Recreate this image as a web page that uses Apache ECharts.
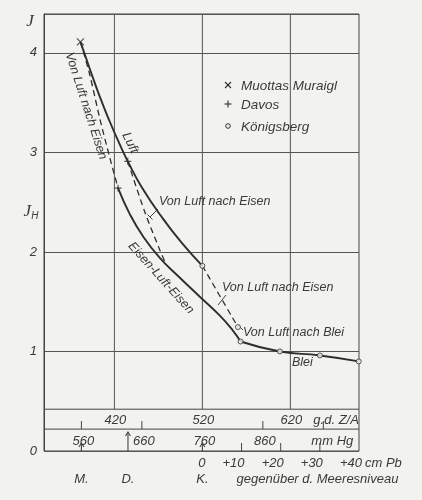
<!DOCTYPE html>
<html><head><meta charset="utf-8">
<script src="https://cdn.jsdelivr.net/npm/echarts@6/dist/echarts.min.js"></script>
<style>html,body{margin:0;padding:0;background:#f2f2ef}#c{width:422px;height:500px}</style>
</head><body><div id="c"></div>
<script>
// ---- data (x in g.d. Z/A units, y = J_H) ----
const luftX  = [381.4, 392.0, 403.4, 414.7, 426.1, 435.2, 451.1, 473.9, 496.6, 520.0];
const luftY  = [4.11, 3.84, 3.56, 3.31, 3.08, 2.91, 2.65, 2.35, 2.09, 1.86];
const eisenX = [424.2, 437.5, 452.3, 471.6, 494.4, 517.1, 539.9, 554.7, 563.4];
const eisenY = [2.64, 2.38, 2.16, 1.94, 1.74, 1.55, 1.36, 1.21, 1.10];
const bleiX  = [563.4, 608.1, 653.6, 697.7];
const bleiY  = [1.10, 1.00, 0.96, 0.90];
const dash1X = [381.4, 392.0, 403.4, 414.7, 424.2];
const dash1Y = [4.11, 3.78, 3.34, 2.95, 2.64];
const dash2X = [435.2, 454.6, 471.6, 478.4];
const dash2Y = [2.91, 2.40, 2.02, 1.88];
const dash3X = [520.0, 560.4];
const dash3Y = [1.86, 1.245];
const muottasX = [381.4];
const muottasY = [4.11];
const davosX = [435.2, 424.2];
const davosY = [2.91, 2.64];
const koenigsbergX = [520.0, 560.4, 563.4, 608.1, 653.6, 697.7];
const koenigsbergY = [1.86, 1.245, 1.10, 1.00, 0.96, 0.90];

const gTicks = [420, 520, 620];
const mmHgTicks = [560, 660, 760, 860, 960];
const mmHgLabels = ['560', '660', '760', '860', ''];
const pbTicks = [0, 10, 20, 30, 40];
const pbLabels = ['0', '+10', '+20', '+30', '+40'];
const stationNames = ['M.', 'D.', 'K.'];
const stationMmHg = [560, 637, 760];
const legendNames = ['Muottas Muraigl', 'Davos', 'Königsberg'];

// axis relations between the three scales
const mmToG = mm => 520 + (mm - 760) * 0.6875;
const pbToG = cm => 520 + cm * 4.45;

const zip = (a, b) => a.map((v, i) => [v, b[i]]);
const INK = '#2e2e2e';
const BG = '#f2f2ef';
const FONT = 'italic 13px "Liberation Sans", Arial, sans-serif';
const FONT_S = 'italic 12.5px "Liberation Sans", Arial, sans-serif';
const STRIP1 = 0.42, STRIP2 = 0.22, YMAX = 4.39;

const chart = echarts.init(document.getElementById('c'));
const lineSer = (name, d, w, dashed) => ({
  type: 'line', name, data: d, symbol: 'none', smooth: dashed ? 0.3 : 0.5,
  lineStyle: { color: INK, width: w, type: dashed ? [6, 4] : 'solid' },
  z: 3, silent: true
});
chart.setOption({
  animation: false,
  backgroundColor: BG,
  grid: { left: 44, top: 14, width: 315, height: 437, show: true, borderColor: '#444', borderWidth: 1, backgroundColor: 'transparent' },
  xAxis: { type: 'value', min: 340, max: 698, show: false },
  yAxis: {
    type: 'value', min: 0, max: YMAX, interval: 1,
    axisLine: { show: true, lineStyle: { color: '#444' } },
    axisTick: { show: false },
    splitLine: { show: true, lineStyle: { color: '#555', width: 1 } },
    axisLabel: {
      margin: 7, color: '#3a3a3a', fontStyle: 'italic', fontSize: 13,
      fontFamily: 'Liberation Sans',
      formatter: v => (Math.abs(v - Math.round(v)) < 1e-6 ? String(Math.round(v)) : '')
    }
  },
  series: [
    lineSer('Luft', zip(luftX, luftY), 1.9, false),
    lineSer('Eisen-Luft-Eisen', zip(eisenX, eisenY), 1.9, false),
    lineSer('Blei', zip(bleiX, bleiY), 1.9, false),
    lineSer('d1', zip(dash1X, dash1Y), 1.3, true),
    lineSer('d2', zip(dash2X, dash2Y), 1.3, true),
    lineSer('d3', zip(dash3X, dash3Y), 1.3, true),
    { type: 'scatter', name: legendNames[0], data: zip(muottasX, muottasY), symbol: 'path://M0,0L10,10M10,0L0,10', symbolSize: 7,
      itemStyle: { color: 'rgba(0,0,0,0)', borderColor: INK, borderWidth: 1.2 }, z: 5, clip: false },
    { type: 'scatter', name: legendNames[1], data: zip(davosX, davosY), symbol: 'path://M5,0L5,10M0,5L10,5', symbolSize: 7,
      itemStyle: { color: 'rgba(0,0,0,0)', borderColor: INK, borderWidth: 1.2 }, z: 5, clip: false },
    { type: 'scatter', name: legendNames[2], data: zip(koenigsbergX, koenigsbergY), symbol: 'circle', symbolSize: 5,
      itemStyle: { color: BG, borderColor: INK, borderWidth: 1 }, z: 5, clip: false }
  ]
});

const px = (x, y) => chart.convertToPixel({ gridIndex: 0 }, [x, y]);
const g = [];
const seg = (x1, y1, x2, y2, w, c) => g.push({ type: 'line', shape: { x1, y1, x2, y2 }, style: { stroke: c || '#444', lineWidth: w || 1 }, z: 2 });
const txt = (text, x, y, align, font, rot) => g.push({ type: 'text', x, y, rotation: rot || 0,
  style: { text, x: 0, y: 0, align: align || 'center', verticalAlign: 'middle', font: font || FONT, fill: '#3a3a3a' }, z: 6 });

const xL = px(340, 0)[0], xR = px(698, 0)[0];
const y0 = px(340, 0)[1], yS1 = px(340, STRIP1)[1], yS2 = px(340, STRIP2)[1], yTop = px(340, YMAX)[1];
// vertical grid lines (stop at the upper strip)
gTicks.forEach(v => { const p = px(v, STRIP1)[0]; seg(p, yS1, p, yTop, 1, '#555'); });
// strip lines
seg(xL, yS1, xR, yS1, 1); seg(xL, yS2, xR, yS2, 1);
// strip 1 labels
gTicks.forEach(v => txt(String(v), px(v, 0)[0] + 1, yS1 + 11, 'center'));
txt('g.d. Z/A', px(620, 0)[0] + 23, yS1 + 11, 'left');
// mm Hg ticks & labels
mmHgTicks.forEach((v, i) => {
  const x = px(mmToG(v), 0)[0];
  if (v !== 760) seg(x, yS2, x, yS2 - 8, 1);
  if (mmHgLabels[i]) txt(mmHgLabels[i], x + 2, yS2 + 12, 'center');
});
txt('mm Hg', px(mmToG(960), 0)[0] - 12, yS2 + 12, 'left');
// cm Pb ticks & labels
pbTicks.forEach((v, i) => {
  const x = px(pbToG(v), 0)[0];
  if (v > 0 && v < 40) seg(x, y0, x, y0 - 8, 1);
  txt(pbLabels[i], x + 3, y0 + 12, 'right');
});
txt('cm Pb', px(pbToG(40), 0)[0] + 6, y0 + 12, 'left');
txt('gegenüber d. Meeresniveau', px(pbToG(10), 0)[0] - 5, y0 + 28, 'left');
// station arrows and names
stationMmHg.forEach((v, i) => {
  const x = px(mmToG(v), 0)[0];
  const top = i === 1 ? y0 - 19 : y0 - 8;
  seg(x, y0, x, top, 1.1);
  g.push({ type: 'polyline', shape: { points: [[x - 2.5, top + 4], [x, top], [x + 2.5, top + 4]] }, style: { stroke: '#444', lineWidth: 1.1, fill: null }, z: 2 });
  txt(stationNames[i], x, y0 + 28, 'center');
});
// axis titles
g.push({ type: 'text', x: 30, y: 22, style: { text: 'J', x: 0, y: 0, align: 'center', verticalAlign: 'middle', font: 'italic 17px "Liberation Serif", serif', fill: '#3a3a3a' } });
g.push({ type: 'text', x: 31, y: 212, style: { text: '{a|J}{b|H}', x: 0, y: 0, align: 'center', verticalAlign: 'middle',
  rich: { a: { font: 'italic 17px "Liberation Serif", serif', fill: '#3a3a3a' }, b: { font: 'italic 10px "Liberation Sans", sans-serif', fill: '#3a3a3a', padding: [8, 0, 0, 0] } } } });
// legend
const lx = 228, ly = [85, 104, 126];
g.push({ type: 'polyline', shape: { points: [[lx - 3, ly[0] - 3], [lx + 3, ly[0] + 3]] }, style: { stroke: INK, lineWidth: 1.1 } });
g.push({ type: 'polyline', shape: { points: [[lx + 3, ly[0] - 3], [lx - 3, ly[0] + 3]] }, style: { stroke: INK, lineWidth: 1.1 } });
g.push({ type: 'polyline', shape: { points: [[lx, ly[1] - 3.5], [lx, ly[1] + 3.5]] }, style: { stroke: INK, lineWidth: 1.1 } });
g.push({ type: 'polyline', shape: { points: [[lx - 3.5, ly[1]], [lx + 3.5, ly[1]]] }, style: { stroke: INK, lineWidth: 1.1 } });
g.push({ type: 'circle', shape: { cx: lx, cy: ly[2], r: 2.3 }, style: { stroke: INK, lineWidth: 1, fill: BG } });
legendNames.forEach((n, i) => txt(n, 241, ly[i] + 1, 'left', 'italic 13.5px "Liberation Sans", Arial, sans-serif'));
// curve annotations
const D = Math.PI / 180;
txt('Von Luft nach Eisen', 86, 106, 'center', FONT_S, -72 * D);
txt('Luft', 130, 143, 'center', FONT, -64 * D);
txt('Eisen-Luft-Eisen', 161, 278, 'center', FONT_S, -48 * D);
txt('Von Luft nach Eisen', 159, 202, 'left', FONT_S);
seg(158, 209, 150, 217, 1); seg(147.5, 214.5, 152.5, 219.5, 1);
txt('Von Luft nach Eisen', 222, 288, 'left', FONT_S);
seg(226, 295, 218, 305, 1);
txt('Von Luft nach Blei', 243, 333, 'left', FONT_S);
seg(243, 330, 238, 325, 1);
txt('Blei', 292, 363, 'left', FONT_S);

chart.setOption({ graphic: { elements: g } });
</script></body></html>
